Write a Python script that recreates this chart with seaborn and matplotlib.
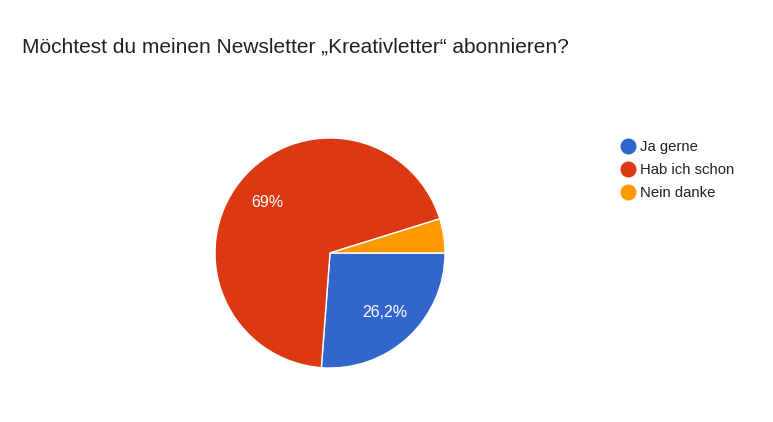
import matplotlib
matplotlib.use("Agg")
import matplotlib.pyplot as plt
from matplotlib.lines import Line2D
import seaborn as sns

# survey answers and their shares (percent)
answers = ["Ja gerne", "Hab ich schon", "Nein danke"]
shares = [26.2, 69.0, 4.8]
colors = ["#3366cc", "#dc3912", "#ff9900"]
title = "Möchtest du meinen Newsletter „Kreativletter“ abonnieren?"

sns.set_theme(style="white")
plt.rcParams["font.family"] = ["Liberation Sans", "DejaVu Sans"]

fig = plt.figure(figsize=(7.73, 4.22), dpi=100)
fig.patch.set_facecolor("white")

# pie centred around (330, 253) px, radius ~115 px
ax = fig.add_axes([(330 - 115) / 773, (169 - 115) / 422, 230 / 773, 230 / 422])


def pct_label(p):
    if p < 5:
        return ""
    txt = f"{p:.1f}".rstrip("0").rstrip(".")
    return txt.replace(".", ",") + "%"


wedges, texts, autotexts = ax.pie(
    shares, colors=colors, startangle=0, counterclock=False,
    autopct=pct_label, pctdistance=0.7,
    wedgeprops=dict(edgecolor="white", linewidth=1),
    textprops=dict(color="white", fontsize=11.5),
)
ax.set_xlim(-1, 1)
ax.set_ylim(-1, 1)
ax.set_aspect("equal")

fig.text(22 / 773, 1 - 47 / 422, title, fontsize=15, color="#212121",
         va="center", ha="left")

handles = [Line2D([0], [0], marker="o", linestyle="", markersize=10.5,
                  markerfacecolor=c, markeredgecolor=c) for c in colors]
fig.legend(handles, answers, loc="upper left",
           bbox_to_anchor=(613 / 773, 1 - 134 / 422), frameon=False,
           fontsize=10.7, handletextpad=0.25, labelspacing=0.62,
           borderaxespad=0, handlelength=1.2, labelcolor="#212121")

fig.savefig("out.png", dpi=100, facecolor="white")
